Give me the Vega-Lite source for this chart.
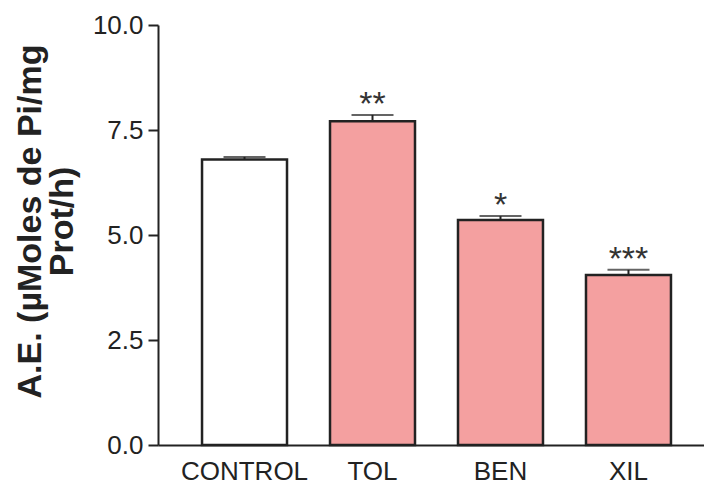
{
  "$schema": "https://vega.github.io/schema/vega-lite/v6.json",
  "autosize": "none",
  "width": 557,
  "height": 420,
  "padding": {"left": 158, "top": 25, "right": 0, "bottom": 42},
  "background": "white",
  "config": {
    "view": {"stroke": null},
    "axis": {
      "domainColor": "#222222",
      "domainWidth": 2,
      "tickColor": "#222222",
      "tickWidth": 2,
      "grid": false,
      "labelColor": "#222222",
      "labelFont": "Liberation Sans, Arial, sans-serif",
      "labelFontSize": 26
    }
  },
  "data": {
    "values": [
      {"grupo": "CONTROL", "media": 6.80, "superior": 6.86, "sig": "", "tratado": "no"},
      {"grupo": "TOL", "media": 7.71, "superior": 7.86, "sig": "**", "tratado": "si"},
      {"grupo": "BEN", "media": 5.36, "superior": 5.45, "sig": "*", "tratado": "si"},
      {"grupo": "XIL", "media": 4.05, "superior": 4.17, "sig": "***", "tratado": "si"}
    ]
  },
  "encoding": {
    "x": {
      "field": "grupo",
      "type": "nominal",
      "sort": null,
      "scale": {"paddingInner": 0.336, "paddingOuter": 0.344},
      "axis": {
        "title": null,
        "labelAngle": 0,
        "ticks": false,
        "labelPadding": 13
      }
    }
  },
  "layer": [
    {
      "mark": {"type": "bar", "stroke": "#222222", "strokeWidth": 2.5},
      "encoding": {
        "y": {
          "field": "media",
          "type": "quantitative",
          "scale": {"domain": [0, 10], "nice": false},
          "axis": {
            "values": [0, 2.5, 5, 7.5, 10],
            "format": ".1f",
            "tickSize": 10,
            "labelPadding": 5,
            "title": ["A.E. (µMoles de Pi/mg", "Prot/h)"],
            "titleFont": "Liberation Sans, Arial, sans-serif",
            "titleFontWeight": "bold",
            "titleFontSize": 34,
            "titleColor": "#222222",
            "titleAngle": -90,
            "titleAlign": "center",
            "titleBaseline": "alphabetic",
            "titleLineHeight": 32,
            "titleX": -118,
            "titleY": 196
          }
        },
        "fill": {
          "field": "tratado",
          "type": "nominal",
          "scale": {"domain": ["no", "si"], "range": ["#ffffff", "#f4a0a0"]},
          "legend": null
        }
      }
    },
    {
      "mark": {"type": "rule", "color": "#222222", "strokeWidth": 2},
      "encoding": {
        "y": {"field": "media", "type": "quantitative"},
        "y2": {"field": "superior"}
      }
    },
    {
      "mark": {"type": "tick", "color": "#222222", "size": 42, "thickness": 2},
      "encoding": {
        "y": {"field": "superior", "type": "quantitative"}
      }
    },
    {
      "mark": {
        "type": "text",
        "font": "Liberation Sans, Arial, sans-serif",
        "fontSize": 34,
        "color": "#333333",
        "baseline": "alphabetic",
        "dy": 0
      },
      "encoding": {
        "y": {"field": "superior", "type": "quantitative"},
        "text": {"field": "sig"}
      }
    }
  ]
}
